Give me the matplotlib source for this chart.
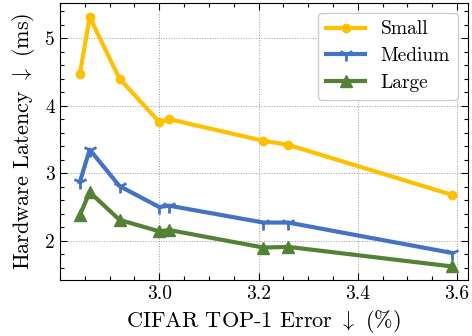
import matplotlib
matplotlib.use("Agg")
import matplotlib.pyplot as plt

plt.rcParams['font.family'] = 'serif'
plt.rcParams['font.serif'] = ['cmr10']
plt.rcParams['mathtext.fontset'] = 'cm'
plt.rcParams['axes.formatter.use_mathtext'] = True
plt.rcParams['axes.unicode_minus'] = False

# CIFAR top-1 error (%) and hardware latency (ms)
err = [2.84, 2.86, 2.92, 3.00, 3.02, 3.21, 3.26, 3.59]
lat_small = [4.47, 5.31, 4.40, 3.76, 3.80, 3.48, 3.42, 2.68]
lat_medium = [2.87, 3.35, 2.81, 2.50, 2.52, 2.27, 2.27, 1.82]
lat_large = [2.38, 2.72, 2.31, 2.14, 2.16, 1.90, 1.91, 1.62]

fig, ax = plt.subplots(figsize=(4.72, 3.36), dpi=100)

ax.plot(err, lat_small, color='#FFC000', lw=3, marker='o', ms=6, label='Small')
ax.plot(err, lat_medium, color='#4472C4', lw=3, marker='1', ms=10, mew=2, label='Medium')
ax.plot(err, lat_large, color='#548235', lw=3, marker='^', ms=9, label='Large')

ax.set_xlim(2.80, 3.621)
ax.set_ylim(1.42, 5.52)
ax.set_xticks([3.0, 3.2, 3.4, 3.6])
ax.set_yticks([2, 3, 4, 5])
ax.set_xticklabels(['3.0', '3.2', '3.4', '3.6'])
ax.set_yticklabels(['2', '3', '4', '5'])
ax.minorticks_on()
ax.tick_params(which='both', direction='in', top=True, right=True, labelsize=14, width=0.8)
ax.tick_params(which='major', length=5)
ax.tick_params(which='minor', length=3)
ax.grid(True, which='major', color='#999999', linestyle=':', linewidth=0.7)

ax.set_xlabel(r'CIFAR TOP-1 Error $\downarrow$ (%)', fontsize=16, labelpad=4)
ax.set_ylabel(r'Hardware Latency $\downarrow$ (ms)', fontsize=16, labelpad=6)
ax.legend(loc='upper right', fontsize=14, fancybox=True, framealpha=1,
          handlelength=2.0, handletextpad=0.8, labelspacing=0.45, borderaxespad=0.5)

fig.subplots_adjust(left=0.127, right=0.9905, top=0.991, bottom=0.1667)
fig.savefig('out.png', dpi=100)
